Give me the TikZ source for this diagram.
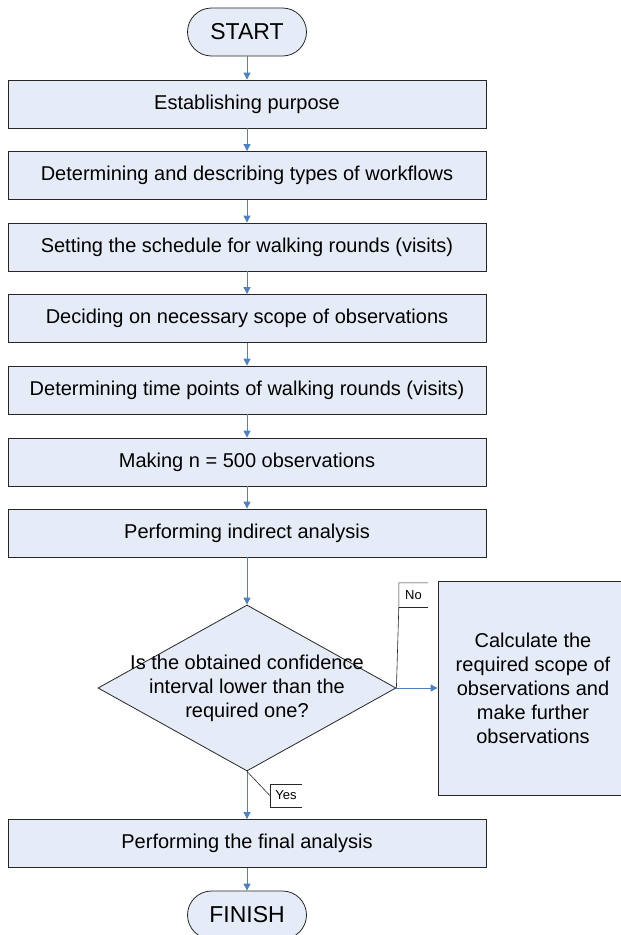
\documentclass[tikz,border=0pt]{standalone}
\usepackage{fontspec}
\setmainfont{Liberation Sans}
\usetikzlibrary{shapes.geometric,arrows.meta}
\definecolor{boxfill}{RGB}{230,236,247}
\definecolor{flowblue}{RGB}{79,129,189}
\begin{document}
\begin{tikzpicture}
[x=1pt,y=-1pt,
  stepdecorate/.style={shape=rectangle,draw=black!85,fill=boxfill,line width=0.8pt,%
    minimum width=478pt,minimum height=48pt,inner sep=0pt,font=\fontsize{20}{24}\selectfont},%
  termdecorate/.style={shape=rectangle,rounded corners=24pt,draw=black!85,fill=boxfill,%
    line width=0.8pt,minimum width=119pt,minimum height=48pt,inner sep=0pt,font=\fontsize{23}{27}\selectfont},%
  decdecorate/.style={shape=diamond,draw=black!85,fill=boxfill,line width=0.8pt,%
    minimum width=298pt,minimum height=166pt,inner sep=0pt},%
  tagdecorate/.style={inner sep=0pt,font=\fontsize{13}{15}\selectfont},%
  tagline/.style={-,black!85,line width=0.6pt},%
  linedecorate/.style={-{Triangle[length=7pt,width=7pt]},flowblue,line width=0.9pt}]
\useasboundingbox (0,0) rectangle (621,935);
%% terminals
\node (start) at (247,32) [termdecorate] {START};
\node (finish) at (247,915) [termdecorate] {FINISH};
%% steps
\foreach \nodename/\y/\txt in {s1/104/Establishing purpose,
  s2/175.5/Determining and describing types of workflows,
  s3/247/Setting the schedule for walking rounds (visits),
  s4/318.5/Deciding on necessary scope of observations,
  s5/390/Determining time points of walking rounds (visits),
  s6/462/Making n = 500 observations,
  s7/533/Performing indirect analysis,
  final/843.5/Performing the final analysis}
{
  \node (\nodename) at (247,\y) [stepdecorate] {\txt};
}
%% decision
\node (dec) at (247,688) [decdecorate] {};
\node (dectext) at (dec.center) [align=center,font=\fontsize{20}{24}\selectfont]
  {Is the obtained confidence\\interval lower than the\\required one?};
\node (calc) at (533,688) [stepdecorate,minimum width=190pt,minimum height=214pt,align=center]
  {Calculate the\\required scope of\\observations and\\make further\\observations};
%% edges
\path
\foreach \startnode/\endnode in {start/s1, s1/s2, s2/s3, s3/s4, s4/s5, s5/s6, s6/s7,
  s7/dec, dec/final, final/finish, dec/calc} {
  (\startnode) edge[linedecorate] (\endnode)
};
%% answer tags
\node (notag) at (413.5,595) [tagdecorate,minimum width=29pt,minimum height=24pt] {No};
\node (yestag) at (286,795.5) [tagdecorate,minimum width=32pt,minimum height=23pt] {Yes};
\draw[tagline] (notag.north east) -- (notag.north west) -- (notag.south west) -- (dec.east);
\draw[tagline] (notag.south west) -- (notag.south east);
\draw[tagline] (yestag.north east) -- (yestag.north west) -- (yestag.south west) -- (yestag.south east);
\draw[tagline] (dec.south) -- (yestag.west);
\end{tikzpicture}
\end{document}
